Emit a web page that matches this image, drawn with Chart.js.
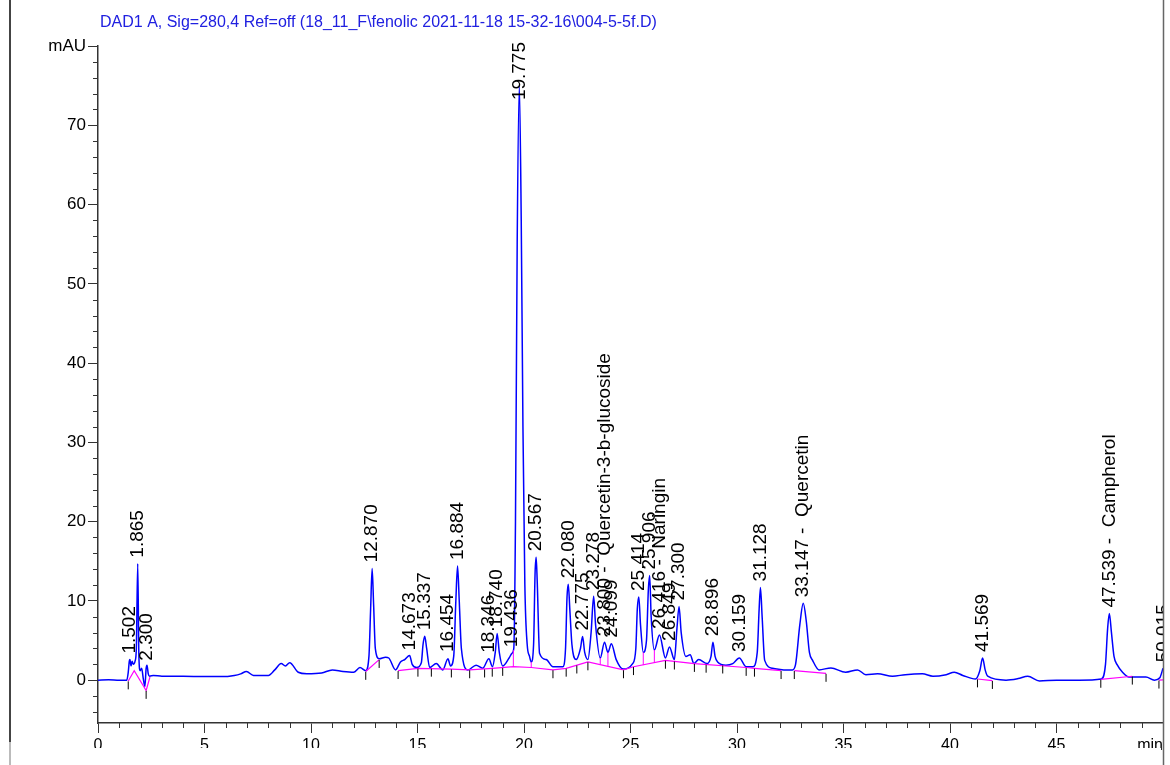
<!DOCTYPE html>
<html>
<head>
<meta charset="utf-8">
<title>DAD1 A chromatogram</title>
<script src="https://cdn.jsdelivr.net/npm/chart.js@4/dist/chart.umd.min.js"></script>
<style>
  body { margin: 0; background: #fff; }
  canvas { display: block; }
</style>
</head>
<body>
<canvas id="chromatogram" width="1170" height="765"></canvas>
<script>
// signal trace (min, mAU)
var traceTime = [0.0, 0.5, 1.0, 1.35, 1.42, 1.47, 1.50, 1.55, 1.60, 1.66, 1.74, 1.80, 1.865, 1.92, 1.98, 2.05, 2.12, 2.20, 2.26, 2.30, 2.36, 2.42,
  2.6, 3.0, 4.0, 5.0, 5.8, 6.4, 6.7, 6.97, 7.3, 8.0, 8.3, 8.6, 8.8, 9.0, 9.4, 9.8, 10.5, 11.0, 11.5, 12.0, 12.3,
  12.57, 12.72, 12.80, 12.87, 12.94, 13.02, 13.2, 13.5, 13.65, 13.97, 14.2, 14.4, 14.63, 14.75, 14.96, 15.18, 15.26, 15.34, 15.43,
  15.57, 15.88, 16.19, 16.43, 16.55, 16.70, 16.80, 16.88, 16.96, 17.06, 17.37, 17.75, 18.06, 18.35, 18.52, 18.65, 18.74, 18.84,
  19.0, 19.3, 19.44, 19.52, 19.60, 19.68, 19.78, 19.87, 19.95, 20.04, 20.15, 20.26, 20.34, 20.45, 20.52, 20.57, 20.62, 20.73,
  21.04, 21.36, 21.82, 21.95, 22.02, 22.08, 22.15, 22.25, 22.45, 22.65, 22.75, 22.85, 23.0, 23.15, 23.27, 23.36, 23.58, 23.78,
  23.94, 24.10, 24.33, 24.65, 25.1, 25.25, 25.32, 25.39, 25.47, 25.6, 25.75, 25.84, 25.90, 25.97, 26.12, 26.36, 26.64, 26.83,
  27.06, 27.18, 27.28, 27.38, 27.6, 27.8, 27.98, 28.2, 28.6, 28.78, 28.87, 28.97, 29.09, 29.48, 29.8, 30.11, 30.43, 30.74,
  30.95, 31.04, 31.10, 31.18, 31.30, 31.68, 32.2, 32.6, 32.75, 32.95, 33.11, 33.25, 33.40, 33.55, 33.85, 34.41, 35.1, 35.66,
  36.05, 36.6, 37.3, 37.9, 38.7, 39.2, 39.82, 40.2, 40.6, 41.2, 41.40, 41.53, 41.65, 41.77, 42.63, 43.2, 43.65, 44.2, 45.0,
  46.07, 47.1, 47.30, 47.40, 47.48, 47.58, 47.70, 47.86, 48.1, 48.4, 49.2, 49.6, 49.85, 50.0];
var traceMAU = [0.0, 0.05, 0.0, 0.0, 1.0, 2.4, 2.6, 1.8, 2.4, 2.0, 2.4, 4.0, 14.7, 3.0, 1.2, 1.5, 0.3, -0.8, 1.5, 1.9, 0.8, 0.5,
  0.6, 0.5, 0.5, 0.45, 0.45, 0.6, 0.8, 1.1, 0.6, 0.6, 1.3, 2.1, 1.8, 2.2, 1.0, 0.8, 0.9, 1.3, 1.1, 1.0, 1.6,
  1.2, 3.0, 9.0, 14.1, 9.5, 4.0, 2.7, 2.9, 2.8, 1.3, 2.3, 2.6, 3.1, 2.0, 1.6, 2.2, 4.5, 5.55, 4.0,
  1.6, 2.1, 1.3, 2.7, 1.8, 3.0, 10.0, 14.4, 10.0, 4.0, 1.3, 1.9, 1.5, 2.7, 1.7, 3.5, 5.9, 3.5,
  1.8, 2.8, 3.4, 4.0, 20, 55, 75, 58, 32, 12, 4.5, 3.0, 2.3, 4.5, 13.5, 15.5, 12.5, 3.4,
  2.6, 1.7, 1.7, 4.0, 10.5, 12.1, 9.0, 4.5, 2.6, 4.0, 5.5, 3.5, 2.6, 6.0, 10.6, 7.0, 2.8, 4.8,
  3.5, 4.6, 2.6, 1.4, 2.1, 4.0, 9.0, 10.5, 7.0, 3.5, 5.0, 11.5, 13.2, 8.0, 3.8, 5.7, 2.8, 4.2,
  2.6, 6.5, 9.3, 6.0, 3.0, 3.2, 2.1, 2.6, 2.1, 3.0, 4.8, 3.0, 2.3, 1.9, 2.1, 2.8, 1.7, 1.7,
  3.5, 9.0, 11.7, 8.0, 2.5, 1.5, 1.3, 1.3, 2.0, 7.0, 9.7, 7.5, 3.5, 2.5, 1.3, 1.55, 1.0, 1.3,
  0.7, 0.8, 0.5, 0.7, 0.8, 0.5, 0.7, 1.0, 0.6, 0.15, 1.2, 2.8, 1.3, 0.5, 0.0, 0.2, 0.5, -0.1, 0.0,
  0.0, 0.15, 2.0, 6.5, 8.4, 6.0, 3.0, 1.9, 1.0, 0.4, 0.4, 0.0, 0.3, 1.5];

// integration baselines (null = break between segments)
var baseTime = [1.42, 1.70, 2.26, 2.44, 2.5, 12.57, 13.2, 13.5, 14.09, 15.02, 16.59, 17.45, 18.51, 19.5, 20.34, 21.36, 21.98,
  23.0, 24.67, 25.14, 26.64, 28.0, 30.43, 30.82, 32.07, 32.3, 32.69, 34.18, 35, 41.29, 41.99, 42.5, 47.08, 48.56, 49, 49.81, 50.0];
var baseLevel = [-0.1, 1.2, -1.3, 0.4, null, 1.1, 2.6, null, 1.2, 1.5, 1.4, 1.3, 1.5, 1.7, 1.6, 1.3, 1.5,
  2.3, 1.3, 1.7, 2.5, 2.1, 1.6, 1.5, 1.2, null, 1.2, 0.85, null, 0.15, -0.05, null, 0.1, 0.5, null, 0.0, 0.05];

// drop lines between fused peaks
var dropTime = [19.5, 20.34, 23.58, 23.94, 25.6, 26.12];
var dropLow = [1.7, 1.6, 2.0, 1.8, 1.9, 2.2];
var dropHigh = [3.8, 2.3, 2.8, 3.5, 3.5, 3.8];

// peak start/end tick marks
var markTime = [1.42, 2.26, 12.57, 13.2, 14.09, 15.02, 15.65, 16.59, 17.45, 18.15, 18.51, 19.0, 21.36, 21.98, 22.48, 23.0,
  24.67, 25.14, 26.64, 27.06, 28.0, 28.55, 29.33, 30.43, 30.82, 32.07, 32.69, 34.18, 41.29, 41.99, 47.08, 48.56, 49.81];
var markLevel = [-0.1, -1.3, 1.1, 2.6, 1.2, 1.5, 1.5, 1.4, 1.3, 1.4, 1.5, 1.6, 1.3, 1.5, 1.9, 2.3,
  1.3, 1.7, 2.5, 2.4, 2.1, 2.0, 1.9, 1.6, 1.5, 1.2, 1.2, 0.85, 0.15, -0.05, 0.1, 0.5, 0.0];

// peak annotations
var peakTime = [1.50, 1.865, 2.30, 12.87, 14.63, 15.34, 16.43, 16.88, 18.35, 18.74, 19.44, 19.78, 20.57, 22.08, 22.75, 23.27,
  23.78, 24.10, 25.39, 25.90, 26.36, 26.83, 27.28, 28.87, 30.11, 31.10, 33.11, 41.53, 47.48, 50.015];
var peakTop = [2.6, 14.7, 1.7, 14.1, 3.0, 5.55, 2.8, 14.4, 2.7, 5.9, 3.4, 75, 15.5, 12.1, 5.5, 10.6,
  4.8, 4.6, 10.5, 13.2, 5.7, 4.2, 9.3, 4.8, 2.8, 11.7, 9.7, 2.8, 8.4, 1.5];
var peakName = ['1.502', '1.865', '2.300', '12.870', '14.673', '15.337', '16.454', '16.884', '18.346', '18.740', '19.436',
  '19.775', '20.567', '22.080', '22.775', '23.278', '23.800 -  Quercetin-3-b-glucoside', '24.099', '25.414', '25.906',
  '26.416 -  Naringin', '26.849', '27.300', '28.896', '30.159', '31.128', '33.147 -  Quercetin', '41.569',
  '47.539 -  Campherol', '50.015'];

var titleText = 'DAD1 A, Sig=280,4 Ref=off (18_11_F\\fenolic 2021-11-18 15-32-16\\004-5-5f.D)';
var FONT = '"Liberation Sans", Arial, sans-serif';

function pairs(xs, ys) {
  return xs.map(function (t, i) { return { x: t, y: ys[i] }; });
}

var dropData = [];
dropTime.forEach(function (t, i) {
  dropData.push({ x: t, y: dropLow[i] }, { x: t, y: dropHigh[i] }, { x: t, y: null });
});

var decorations = {
  id: 'decorations',
  afterDatasetsDraw: function (chart) {
    var ctx = chart.ctx, a = chart.chartArea, x = chart.scales.x, y = chart.scales.y;
    ctx.save();
    ctx.beginPath();
    ctx.rect(0, 0, a.right + 0.5, chart.height);
    ctx.clip();
    ctx.font = '19px ' + FONT;
    ctx.fillStyle = '#000';
    ctx.textAlign = 'left';
    ctx.textBaseline = 'middle';
    peakTime.forEach(function (t, i) {
      var px = x.getPixelForValue(t);
      var py = y.getPixelForValue(peakTop[i]);
      var w = ctx.measureText(peakName[i]).width;
      var start = py - 6;
      if (start - w < a.top - 4) start = a.top - 4 + w;
      ctx.save();
      ctx.translate(px, start);
      ctx.rotate(-Math.PI / 2);
      ctx.fillText(peakName[i], 0, 0);
      ctx.restore();
    });
    ctx.restore();
  },
  afterDraw: function (chart) {
    var ctx = chart.ctx, a = chart.chartArea, x = chart.scales.x, y = chart.scales.y;
    ctx.save();
    // minor ticks
    ctx.strokeStyle = '#333';
    ctx.lineWidth = 1;
    ctx.beginPath();
    for (var v = -4; v < 80; v += 2) {
      if (v % 10 === 0) continue;
      var py = Math.round(y.getPixelForValue(v)) + 0.5;
      ctx.moveTo(a.left - 5, py);
      ctx.lineTo(a.left, py);
    }
    for (var t = 1; t < 50; t++) {
      if (t % 5 === 0) continue;
      var px = Math.round(x.getPixelForValue(t)) + 0.5;
      ctx.moveTo(px, a.bottom);
      ctx.lineTo(px, a.bottom + 5);
    }
    ctx.stroke();

    // title
    ctx.font = '16px ' + FONT;
    ctx.fillStyle = '#2020e0';
    ctx.textAlign = 'left';
    ctx.textBaseline = 'alphabetic';
    ctx.fillText(titleText, 100, 27);

    // unit of the time axis
    ctx.font = '16px ' + FONT;
    ctx.fillStyle = '#000';
    ctx.textAlign = 'right';
    ctx.textBaseline = 'top';
    ctx.fillText('min', a.right, a.bottom + 15);

    // page is cut below the tick labels
    ctx.fillStyle = '#fff';
    ctx.fillRect(30, 748, a.right - 32, chart.height - 748);

    // frame lines
    ctx.strokeStyle = '#444';
    ctx.lineWidth = 2;
    ctx.beginPath();
    ctx.moveTo(10, 0);
    ctx.lineTo(10, 742);
    ctx.stroke();
    ctx.strokeStyle = '#bbb';
    ctx.beginPath();
    ctx.moveTo(10, 742);
    ctx.lineTo(10, chart.height);
    ctx.stroke();
    ctx.strokeStyle = '#666';
    ctx.lineWidth = 1.5;
    ctx.beginPath();
    ctx.moveTo(a.right + 0.5, 0);
    ctx.lineTo(a.right + 0.5, chart.height);
    ctx.stroke();
    ctx.restore();
  }
};

var ctx = document.getElementById('chromatogram').getContext('2d');
new Chart(ctx, {
  type: 'line',
  data: {
    datasets: [{
      label: 'DAD1 A',
      data: pairs(traceTime, traceMAU),
      borderColor: '#0000ff',
      borderWidth: 1.5,
      pointRadius: 0,
      cubicInterpolationMode: 'monotone',
      order: 2
    }, {
      label: 'baseline',
      data: pairs(baseTime, baseLevel),
      borderColor: '#ff00ff',
      borderWidth: 1.2,
      pointRadius: 0,
      spanGaps: false,
      order: 1
    }, {
      label: 'drop',
      data: dropData,
      borderColor: '#ff00ff',
      borderWidth: 1,
      pointRadius: 0,
      spanGaps: false,
      order: 1
    }, {
      type: 'scatter',
      label: 'marks',
      data: markTime.map(function (t, i) { return { x: t, y: markLevel[i] - 0.55 }; }),
      pointStyle: 'line',
      rotation: 90,
      radius: 4,
      borderColor: '#000',
      borderWidth: 1,
      order: 0
    }]
  },
  options: {
    responsive: false,
    animation: false,
    layout: { padding: { left: 0, top: 46, right: 7, bottom: 0 } },
    plugins: { legend: { display: false }, tooltip: { enabled: false } },
    scales: {
      x: {
        type: 'linear',
        min: 0,
        max: 50,
        afterFit: function (s) { s.height = 42; },
        ticks: {
          stepSize: 5,
          autoSkip: false,
          maxRotation: 0,
          padding: 3,
          color: '#000',
          font: { size: 16, family: FONT },
          callback: function (v) { return v === 50 ? '' : v; }
        },
        grid: { drawOnChartArea: false, tickLength: 10, color: '#333' },
        border: { color: '#333', width: 1.5 }
      },
      y: {
        min: -5.4,
        max: 80,
        afterFit: function (s) { s.width = 98; },
        ticks: {
          stepSize: 10,
          includeBounds: false,
          padding: 2,
          color: '#000',
          font: { size: 17, family: FONT },
          callback: function (v) { return v === 80 ? 'mAU' : v; }
        },
        grid: { drawOnChartArea: false, tickLength: 10, color: '#333' },
        border: { color: '#333', width: 1.5 }
      }
    }
  },
  plugins: [decorations]
});
</script>
</body>
</html>
